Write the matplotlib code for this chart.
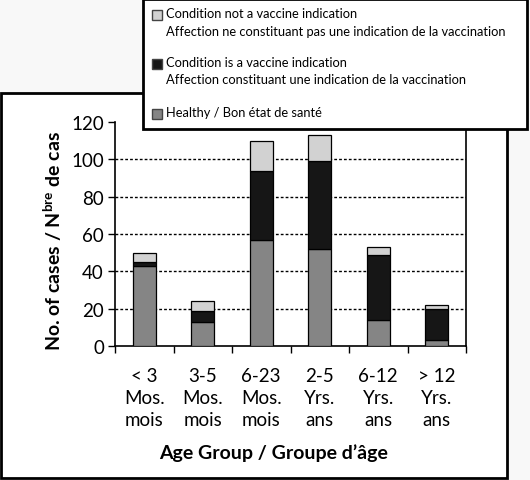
import numpy as np
import matplotlib
matplotlib.use("Agg")
import matplotlib.pyplot as plt
from matplotlib.patches import Rectangle

plt.rcParams["font.family"] = ["Lato", "DejaVu Sans"]
plt.rcParams["mathtext.fontset"] = "custom"
plt.rcParams["mathtext.rm"] = "Lato"
plt.rcParams["mathtext.bf"] = "Lato:bold"

# data
age_groups = ["< 3\nMos.\nmois", "3-5\nMos.\nmois", "6-23\nMos.\nmois",
              "2-5\nYrs.\nans", "6-12\nYrs.\nans", "> 12\nYrs.\nans"]
healthy = [43, 13, 57, 52, 14, 3]
indication = [2, 6, 37, 47, 35, 17]
not_indication = [5, 5, 16, 14, 4, 2]

legend_labels = [
    "Condition not a vaccine indication\nAffection ne constituant pas une indication de la vaccination",
    "Condition is a vaccine indication\nAffection constituant une indication de la vaccination",
    "Healthy / Bon état de santé",
]

c_light = "#d2d2d2"
c_dark = "#161616"
c_mid = "#858585"

W, H = 530, 481


def fx(px):
    return px / W


def fy(py):
    return 1 - py / H


def main():
    fig = plt.figure(figsize=(W / 100, H / 100), dpi=100)
    fig.patch.set_facecolor("#f8f8f8")

    # outer frame
    fig.add_artist(Rectangle((fx(1), fy(479)), fx(506), 385 / H, transform=fig.transFigure,
                             facecolor="white", edgecolor="black", lw=2, zorder=-1))

    ax = fig.add_axes([fx(115), fy(347), fx(351), 224 / H])
    ax.set_facecolor("white")

    x = np.arange(len(age_groups)) + 0.5
    h = np.array(healthy)
    i = np.array(indication)
    n = np.array(not_indication)
    kw = dict(width=0.4, edgecolor="black", linewidth=0.9, zorder=3)
    ax.bar(x, h, color=c_mid, **kw)
    ax.bar(x, i, bottom=h, color=c_dark, **kw)
    ax.bar(x, n, bottom=h + i, color=c_light, **kw)

    ax.set_xlim(0, len(age_groups))
    ax.set_ylim(0, 120)
    ax.set_yticks(np.arange(0, 121, 20))
    ax.set_xticks(np.arange(0, len(age_groups) + 1))
    ax.set_xticklabels([])
    ax.set_xticks(x, minor=True)
    ax.set_xticklabels(age_groups, minor=True, fontsize=13.5, linespacing=1.35)
    ax.tick_params(axis="x", which="minor", length=0, pad=15)
    ax.tick_params(axis="both", which="major", direction="out", length=5, width=1)
    ax.tick_params(axis="y", labelsize=13.5, pad=3)
    for y in range(20, 101, 20):
        ax.axhline(y, color="black", lw=1, ls=(0, (2, 1.5)), zorder=1)
    ax.spines["top"].set_visible(False)
    for s in ["left", "bottom", "right"]:
        ax.spines[s].set_linewidth(1.2)

    fig.text(fx(274), fy(453), "Age Group / Groupe d’âge", ha="center", va="center",
             fontsize=14, fontweight="bold")
    fig.text(fx(53), fy(241), r"No. of cases / N$^{\mathbf{bre}}$ de cas", ha="center",
             va="center", rotation=90, fontsize=14, fontweight="bold")

    # legend box
    fig.add_artist(Rectangle((fx(143), fy(130)), fx(384), 130 / H, transform=fig.transFigure,
                             facecolor="white", edgecolor="black", lw=2, zorder=5))
    colors = [c_light, c_dark, c_mid]
    rows = [16, 65, 115]
    for lab, col, ry in zip(legend_labels, colors, rows):
        fig.add_artist(Rectangle((fx(152), fy(ry + 5)), fx(10), 10 / H, transform=fig.transFigure,
                                 facecolor=col, edgecolor="#444444", lw=1, zorder=6))
        fig.text(fx(166), fy(ry - 8), lab, ha="left", va="top", fontsize=9.3,
                 linespacing=1.55, zorder=6)

    return fig, ax


if __name__ == "__main__":
    fig, _ = main()
    fig.savefig("out.png", dpi=100)
